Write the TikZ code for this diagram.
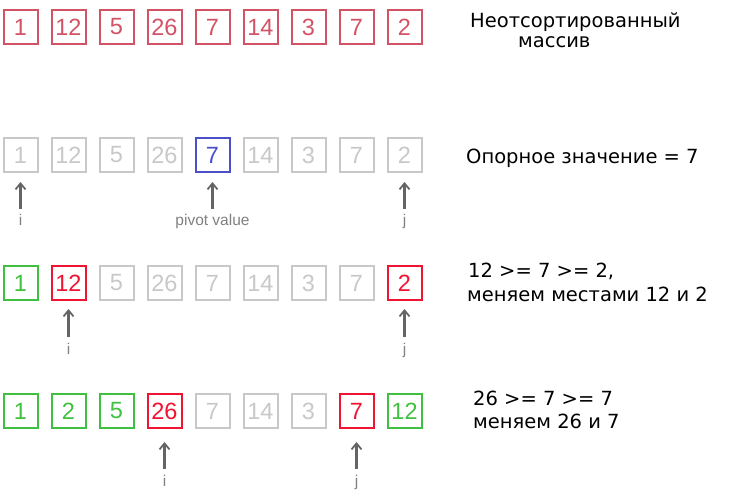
\documentclass[tikz,border=0pt]{standalone}
\usepackage{fontspec}
\setmainfont{Liberation Sans}
\newfontfamily\dejavu{DejaVu Sans}
\usetikzlibrary{arrows.meta}
\definecolor{cpink}{RGB}{210,82,102}
\definecolor{cgray}{RGB}{200,200,200}
\definecolor{cblue}{RGB}{75,80,200}
\definecolor{cgreen}{RGB}{64,192,64}
\definecolor{cred}{RGB}{240,20,50}
\definecolor{carrow}{RGB}{100,100,100}
\definecolor{clabel}{RGB}{128,128,128}
\begin{document}
\begin{tikzpicture}[x=1pt,y=-1pt,
  cell/.style={draw=#1, text=#1, line width=2pt, minimum size=34pt, inner sep=0pt,
    font=\fontsize{23.5}{23.5}\selectfont},
  ptrlabel/.style={text=clabel, inner sep=0pt, text height=8pt, text depth=3pt,
    font=\fontsize{15.5}{15.5}\selectfont},
  ptr/.style={draw=carrow, line width=2.2pt, -{Straight Barb[length=6pt,width=10pt,line width=1.8pt]}},
  note/.style={anchor=base west, inner sep=0pt, font=\dejavu\fontsize{19.5}{19.5}\selectfont}]
\useasboundingbox (0,0) rectangle (744,491);
% row 1
\foreach \v/\c [count=\k from 0] in {1/cpink,12/cpink,5/cpink,26/cpink,7/cpink,14/cpink,3/cpink,7/cpink,2/cpink}
  \node[cell=\c] (a\k) at (20.5+48*\k,27) {\v};
% row 2
\foreach \v/\c [count=\k from 0] in {1/cgray,12/cgray,5/cgray,26/cgray,7/cblue,14/cgray,3/cgray,7/cgray,2/cgray}
  \node[cell=\c] (b\k) at (20.5+48*\k,155) {\v};
% row 3
\foreach \v/\c [count=\k from 0] in {1/cgreen,12/cred,5/cgray,26/cgray,7/cgray,14/cgray,3/cgray,7/cgray,2/cred}
  \node[cell=\c] (c\k) at (20.5+48*\k,283) {\v};
% row 4
\foreach \v/\c [count=\k from 0] in {1/cgreen,2/cgreen,5/cgreen,26/cred,7/cgray,14/cgray,3/cgray,7/cred,12/cgreen}
  \node[cell=\c] (d\k) at (20.5+48*\k,411) {\v};
% pointer labels
\node[ptrlabel] (bi) at (20.5,223) {i};
\node[ptrlabel] (bp) at (212.5,223) {pivot value};
\node[ptrlabel] (bj) at (404.5,223) {j};
\node[ptrlabel] (ci) at (68.5,352) {i};
\node[ptrlabel] (cj) at (404.5,352) {j};
\node[ptrlabel] (di) at (164.5,484) {i};
\node[ptrlabel] (dj) at (356.5,484) {j};
% pointers
\draw[ptr, shorten <=8.5pt, shorten >=9pt] (bi) -- (b0);
\draw[ptr, shorten <=8.5pt, shorten >=9pt] (bp) -- (b4);
\draw[ptr, shorten <=8.5pt, shorten >=9pt] (bj) -- (b8);
\draw[ptr, shorten <=9.5pt, shorten >=8pt] (ci) -- (c1);
\draw[ptr, shorten <=9.5pt, shorten >=8pt] (cj) -- (c8);
\draw[ptr, shorten <=9.5pt, shorten >=13pt] (di) -- (d3);
\draw[ptr, shorten <=9.5pt, shorten >=13pt] (dj) -- (d7);
% notes
\node[note] (n1a) at (470,27) {Неотсортированный};
\node[note] (n1b) at (518,47) {массив};
\node[note] (n2) at (466,163) {Опорное значение = 7};
\node[note] (n3a) at (468,277) {12 >= 7 >= 2,};
\node[note] (n3b) at (467,301) {меняем местами 12 и 2};
\node[note] (n4a) at (473,405) {26 >= 7 >= 7};
\node[note] (n4b) at (473,428) {меняем 26 и 7};
\end{tikzpicture}
\end{document}
